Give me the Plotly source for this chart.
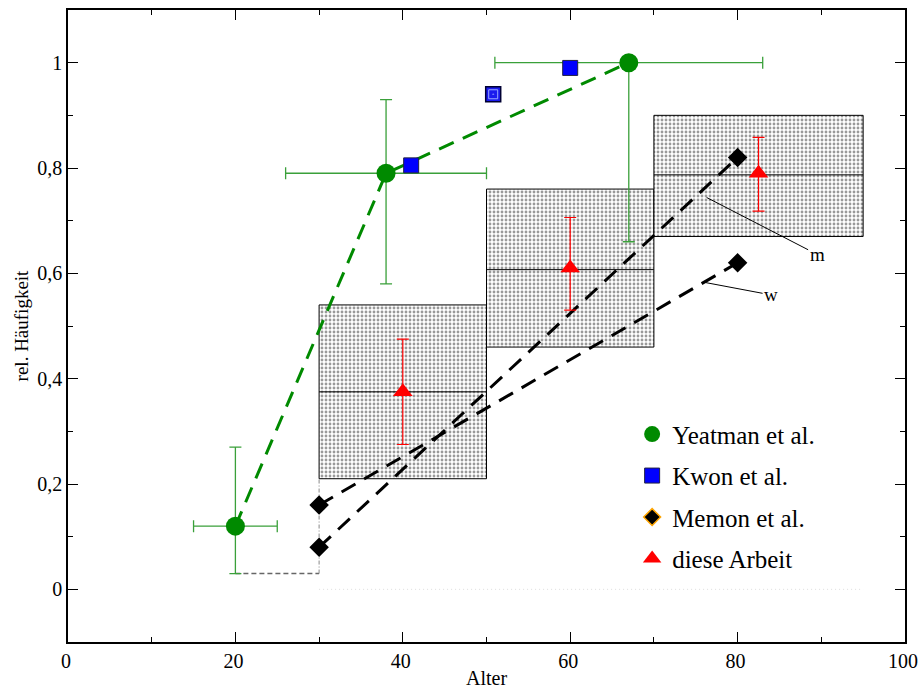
import plotly.graph_objects as go

# ---------------- data ----------------
yeat_x = [20, 38, 67]
yeat_y = [0.12, 0.79, 1.0]
yeat_xplus = [5, 12, 16]
yeat_xminus = [5, 12, 16]
yeat_yplus = [0.15, 0.14, 0.0]
yeat_yminus = [0.09, 0.21, 0.34]

kwon_x = [41, 60]
kwon_y = [0.805, 0.99]
kwon2_x = [50.8]
kwon2_y = [0.94]

memon_x = [30, 80]
memon_m = [0.08, 0.82]
memon_w = [0.16, 0.62]

arb_x = [40, 60, 82.5]
arb_y = [0.375, 0.61, 0.79]
arb_plus = [0.10, 0.096, 0.068]
arb_minus = [0.10, 0.08, 0.072]

box_x0 = [30, 50, 70]
box_x1 = [50, 70, 95]
box_lo = [0.21, 0.46, 0.67]
box_hi = [0.54, 0.76, 0.90]
box_mid = [0.375, 0.607, 0.787]

base_x = [20, 30]
base_y = [0.03, 0.03]
vert_x = [30, 30]
vert_y = [0.03, 0.21]
zero_x = [30, 95]
zero_y = [0, 0]

FONT = "'Liberation Serif', 'Times New Roman', Times, serif"
GREEN = "#008a00"
GREEN_ERR = "#3aa03a"

fig = go.Figure()

# boxes with dotted pattern
for x0, x1, lo, hi, mid in zip(box_x0, box_x1, box_lo, box_hi, box_mid):
    fig.add_trace(go.Scatter(
        x=[x0, x1, x1, x0, x0], y=[lo, lo, hi, hi, lo],
        mode="lines", fill="toself",
        fillcolor="white",
        fillpattern=dict(shape=".", fgcolor="#333333", bgcolor="white",
                         size=4, solidity=0.4),
        line=dict(color="black", width=1), showlegend=False, hoverinfo="skip"))
    fig.add_trace(go.Scatter(
        x=[x0, x1], y=[mid, mid], mode="lines",
        line=dict(color="black", width=1), showlegend=False, hoverinfo="skip"))

# baseline helper lines
fig.add_trace(go.Scatter(x=base_x, y=base_y, mode="lines",
                         line=dict(color="#666666", width=1.5, dash="5px,3px"),
                         showlegend=False))
fig.add_trace(go.Scatter(x=vert_x, y=vert_y, mode="lines",
                         line=dict(color="#888888", width=1, dash="4px,2px,1px,2px"),
                         showlegend=False))
fig.add_trace(go.Scatter(x=zero_x, y=zero_y, mode="lines",
                         line=dict(color="#dddddd", width=1, dash="1px,3px"),
                         showlegend=False))

# Memon lines
fig.add_trace(go.Scatter(x=memon_x, y=memon_m, mode="lines+markers",
                         line=dict(color="black", width=3, dash="16px,10px"),
                         marker=dict(symbol="diamond", size=15, color="black"),
                         showlegend=False))
fig.add_trace(go.Scatter(x=memon_x, y=memon_w, mode="lines+markers",
                         line=dict(color="black", width=3, dash="16px,10px"),
                         marker=dict(symbol="diamond", size=15, color="black"),
                         showlegend=False))

# Yeatman line
fig.add_trace(go.Scatter(x=yeat_x, y=yeat_y, mode="lines",
                         line=dict(color=GREEN, width=3, dash="16px,10px"),
                         showlegend=False))

# Yeatman markers with error bars
fig.add_trace(go.Scatter(
    x=yeat_x, y=yeat_y, mode="markers", name="Yeatman et al.",
    legendgroup="a",
    marker=dict(symbol="circle", size=19, color=GREEN),
    error_x=dict(type="data", symmetric=False, array=yeat_xplus,
                 arrayminus=yeat_xminus, color=GREEN_ERR, thickness=1.3, width=6),
    error_y=dict(type="data", symmetric=False, array=yeat_yplus,
                 arrayminus=yeat_yminus, color=GREEN_ERR, thickness=1.3, width=6)))

# Kwon
fig.add_trace(go.Scatter(
    x=kwon_x, y=kwon_y, mode="markers", name="Kwon et al.", legendgroup="b",
    marker=dict(symbol="square", size=15, color="#0000ff",
                line=dict(color="#222244", width=1))))
fig.add_trace(go.Scatter(
    x=kwon2_x, y=kwon2_y, mode="markers", showlegend=False,
    marker=dict(symbol="square", size=15, color="#1a1aee",
                line=dict(color="#000033", width=1.5))))
fig.add_trace(go.Scatter(
    x=kwon2_x, y=kwon2_y, mode="markers", showlegend=False,
    marker=dict(symbol="square-open-dot", size=9, color="#9aa8ff",
                line=dict(width=0))))

# Memon legend entry
fig.add_trace(go.Scatter(
    x=[None], y=[None], mode="markers", name="Memon et al.", legendgroup="c",
    marker=dict(symbol="diamond", size=13, color="black",
                line=dict(color="orange", width=1.5))))

# diese Arbeit
fig.add_trace(go.Scatter(
    x=arb_x, y=arb_y, mode="markers", name="diese Arbeit", legendgroup="d",
    marker=dict(symbol="triangle-up", size=17, color="#ff0000"),
    error_y=dict(type="data", symmetric=False, array=arb_plus,
                 arrayminus=arb_minus, color="#ff0000", thickness=1.2, width=6)))

# m / w labels
fig.add_annotation(x=76.3, y=0.744, ax=89.5, ay=0.636, axref="x", ayref="y",
                   text="m", showarrow=True, arrowhead=0, arrowwidth=1,
                   arrowcolor="black", font=dict(family=FONT, size=19, color="black"))
fig.add_annotation(x=76.0, y=0.583, ax=84.0, ay=0.559, axref="x", ayref="y",
                   text="w", showarrow=True, arrowhead=0, arrowwidth=1,
                   arrowcolor="black", font=dict(family=FONT, size=19, color="black"))

axis_common = dict(
    showline=True, linecolor="black", linewidth=1.5, mirror="ticks",
    ticks="inside", tickcolor="black", ticklen=10, tickwidth=1,
    showgrid=False, zeroline=False, automargin=False,
    ticklabeloverflow="allow",
    tickfont=dict(family=FONT, size=20, color="black"),
)

fig.update_xaxes(range=[0, 100], dtick=20, tick0=0, ticklabelshift=-2,
                 minor=dict(dtick=10, ticks="inside", ticklen=5, tickcolor="black", showgrid=False),
                 title=dict(text="Alter", font=dict(family=FONT, size=20, color="black"), standoff=0),
                 **axis_common)
fig.update_yaxes(range=[-0.1, 1.1], dtick=0.2, tick0=0,
                 minor=dict(dtick=0.1, tick0=0, ticks="inside", ticklen=5, tickcolor="black", showgrid=False),
                 title=dict(text="rel. Häufigkeit", font=dict(family=FONT, size=19, color="black"), standoff=4),
                 **axis_common)

fig.update_layout(
    width=919, height=690,
    margin=dict(l=68, r=14, t=10, b=48),
    paper_bgcolor="white", plot_bgcolor="white",
    separators=",.",
    font=dict(family=FONT, color="black"),
    legend=dict(x=0.674, y=0.365, xanchor="left", yanchor="top",
                bgcolor="rgba(0,0,0,0)", borderwidth=0,
                font=dict(family=FONT, size=25, color="black"),
                traceorder="grouped", tracegroupgap=6),
)

fig.write_html("out.html")
